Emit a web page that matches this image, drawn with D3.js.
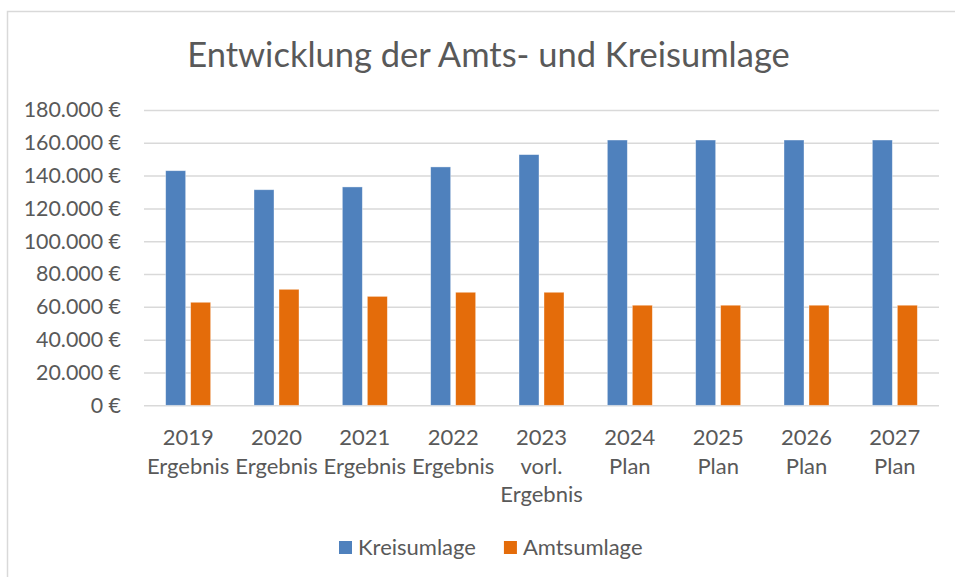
<!DOCTYPE html>
<html>
<head>
<meta charset="utf-8">
<script src="https://cdnjs.cloudflare.com/ajax/libs/d3/7.8.5/d3.min.js"></script>
<style>
  body { margin: 0; background: #fff; }
  text { font-family: Lato, "Open Sans", sans-serif; fill: #595959; }
</style>
</head>
<body>
<div id="vis"></div>
<script>
// chart data
var categories = [
  ["2019", "Ergebnis"],
  ["2020", "Ergebnis"],
  ["2021", "Ergebnis"],
  ["2022", "Ergebnis"],
  ["2023", "vorl.", "Ergebnis"],
  ["2024", "Plan"],
  ["2025", "Plan"],
  ["2026", "Plan"],
  ["2027", "Plan"]
];
var seriesNames = ["Kreisumlage", "Amtsumlage"];
var kreisumlage = [143000, 131400, 133100, 145300, 152800, 161700, 161700, 161700, 161700];
var amtsumlage = [62800, 70700, 66400, 68900, 68900, 61000, 61000, 61000, 61000];
var yTicks = [0, 20000, 40000, 60000, 80000, 100000, 120000, 140000, 160000, 180000];
var colors = ["#4f81bd", "#e46c0a"];

var width = 955, height = 577;
var margin = {top: 110, left: 144, right: 16, bottom: 171.7};
var innerW = width - margin.left - margin.right,
    innerH = height - margin.top - margin.bottom;

var de = d3.formatLocale({decimal: ",", thousands: ".", grouping: [3], currency: ["", " €"]});
var fmt = de.format(",.0f");

var svg = d3.select("#vis").append("svg")
    .attr("width", width)
    .attr("height", height);

// chart frame
svg.append("rect")
    .attr("x", 7.5).attr("y", 11.5)
    .attr("width", 1000).attr("height", 700)
    .attr("fill", "#fff")
    .attr("stroke", "#d9d9d9")
    .attr("stroke-width", 1.5);

// title
svg.append("text")
    .attr("x", 488.5)
    .attr("y", 67)
    .attr("text-anchor", "middle")
    .style("font-size", "34.5px")
    .text("Entwicklung der Amts- und Kreisumlage");

var x0 = d3.scaleBand()
    .domain(categories.map(function(d) { return d[0]; }))
    .range([0, innerW]);
var x1 = d3.scaleBand()
    .domain(seriesNames)
    .range([-22.5, 22.5])
    .paddingInner(0.2);
var y = d3.scaleLinear()
    .domain([0, 180000])
    .range([innerH, 0]);

var g = svg.append("g")
    .attr("transform", "translate(" + margin.left + "," + margin.top + ")");

// gridlines
var grid = g.append("g")
    .call(d3.axisLeft(y).tickValues(yTicks).tickSize(-innerW).tickFormat(""));
grid.select(".domain").remove();
grid.selectAll("line").attr("stroke", "#d9d9d9").attr("stroke-width", 1.5);

// y labels
var yAxis = g.append("g")
    .attr("transform", "translate(-23,0)")
    .call(d3.axisLeft(y).tickValues(yTicks).tickSize(0).tickPadding(0)
      .tickFormat(function(d) { return fmt(d) + " €"; }));
yAxis.select(".domain").remove();
yAxis.selectAll("text")
    .style("font-size", "21.4px")
    .style("font-family", "Lato, sans-serif")
    .attr("fill", "#595959");

// bars
var rows = categories.map(function(c, i) {
  return {cat: c[0], values: [kreisumlage[i], amtsumlage[i]]};
});
var groups = g.selectAll(".grp")
    .data(rows)
    .enter().append("g")
    .attr("class", "grp")
    .attr("transform", function(d) { return "translate(" + (x0(d.cat) + x0.bandwidth() / 2) + ",0)"; });
groups.selectAll("rect")
    .data(function(d) { return d.values.map(function(v, i) { return {name: seriesNames[i], value: v, i: i}; }); })
    .enter().append("rect")
    .attr("x", function(d) { return x1(d.name); })
    .attr("width", x1.bandwidth())
    .attr("y", function(d) { return y(d.value); })
    .attr("height", function(d) { return innerH - y(d.value); })
    .attr("fill", function(d) { return colors[d.i]; })
    .attr("stroke", "#fff")
    .attr("stroke-opacity", 0.5)
    .attr("stroke-width", 0.75);

// x labels (multi-line)
var xl = g.selectAll(".xl")
    .data(categories)
    .enter().append("text")
    .attr("class", "xl")
    .attr("text-anchor", "middle")
    .style("font-size", "22px")
    .attr("transform", function(d) { return "translate(" + (x0(d[0]) + x0.bandwidth() / 2) + "," + (innerH + 40) + ")"; });
xl.selectAll("tspan")
    .data(function(d) { return d; })
    .enter().append("tspan")
    .attr("x", 0)
    .attr("y", function(d, i) { return i * 28.5; })
    .text(function(d) { return d; });

// legend
var legend = svg.append("g").attr("transform", "translate(0,555)");
var lx = 339;
seriesNames.forEach(function(name, i) {
  legend.append("rect")
    .attr("x", lx).attr("y", -14)
    .attr("width", 13).attr("height", 13)
    .attr("fill", colors[i]);
  var t = legend.append("text")
    .attr("x", lx + 19)
    .attr("y", 0)
    .style("font-size", "22px")
    .text(name);
  lx += 19 + t.node().getComputedTextLength() + 28;
});
</script>
</body>
</html>
